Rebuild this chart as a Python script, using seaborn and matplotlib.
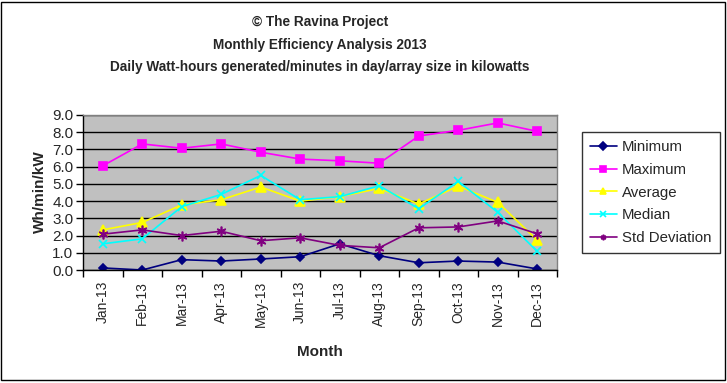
import matplotlib
matplotlib.use("Agg")
import matplotlib.pyplot as plt
import seaborn as sns
import pandas as pd
from matplotlib.patches import Rectangle
from matplotlib.ticker import MultipleLocator, FixedLocator, FuncFormatter

months = ["Jan-13", "Feb-13", "Mar-13", "Apr-13", "May-13", "Jun-13",
          "Jul-13", "Aug-13", "Sep-13", "Oct-13", "Nov-13", "Dec-13"]
minimum = [0.12, 0.0, 0.60, 0.52, 0.64, 0.77, 1.52, 0.83, 0.42, 0.52, 0.46, 0.06]
maximum = [6.05, 7.32, 7.07, 7.32, 6.84, 6.44, 6.34, 6.20, 7.78, 8.11, 8.54, 8.05]
average = [2.33, 2.76, 3.78, 4.08, 4.82, 4.00, 4.26, 4.74, 3.83, 4.87, 3.93, 1.73]
median = [1.52, 1.81, 3.68, 4.39, 5.49, 4.08, 4.26, 4.89, 3.56, 5.14, 3.35, 1.08]
stddev = [2.08, 2.33, 2.00, 2.25, 1.70, 1.87, 1.43, 1.29, 2.45, 2.50, 2.85, 2.10]

series_names = ["Minimum", "Maximum", "Average", "Median", "Std Deviation"]
series_vals = [minimum, maximum, average, median, stddev]
colors = ["#000080", "#FF00FF", "#FFFF00", "#00FFFF", "#800080"]
markers = ["D", "s", "^", "x", (6, 2, 0)]
msizes = [4.5, 6, 7, 6, 7]

sns.set_theme(style="white")
plt.rcParams['font.family'] = ['Liberation Sans', 'DejaVu Sans']

fig = plt.figure(figsize=(7.27, 3.83), dpi=100)
fig.patch.set_facecolor("white")
ax = fig.add_axes([83/727, 1-270/383, (557-83)/727, (270-115)/383])
ax.set_facecolor("#C0C0C0")

for name, vals, c, m, ms in zip(series_names, series_vals, colors, markers, msizes):
    df = pd.DataFrame({"Month": months, "Value": vals})
    sns.lineplot(data=df, x="Month", y="Value", ax=ax, color=c, marker=m,
                 markersize=ms, markeredgecolor=c, markerfacecolor=c,
                 markeredgewidth=1.2, linewidth=1.2, label=name, sort=False)

ax.set_xlim(-0.5, len(months)-0.5)
ax.set_ylim(0, 9)
ax.yaxis.set_major_locator(MultipleLocator(1.0))
ax.yaxis.set_major_formatter(FuncFormatter(lambda v, p: f"{v:.1f}"))
ax.grid(axis="y", color="black", linewidth=1.0)
ax.set_axisbelow(True)
ax.set_xticks(range(len(months)))
ax.set_xticklabels(months, rotation=90, fontsize=10)
ax.xaxis.set_minor_locator(FixedLocator([i - 0.5 for i in range(len(months)+1)]))
ax.tick_params(axis="x", which="major", length=0, pad=8)
ax.tick_params(axis="x", which="minor", length=5, width=1, color="black", direction="out", bottom=True)
ax.tick_params(axis="y", which="major", length=5, width=1, color="black", direction="out", left=True, labelsize=11, pad=2)
for s in ["top", "right"]:
    ax.spines[s].set_color("#808080")
for s in ["left", "bottom"]:
    ax.spines[s].set_color("black")
for s in ax.spines.values():
    s.set_linewidth(1)

ax.set_xlabel("")
ax.set_ylabel("")
fig.text(40/727, 1-192/383, "Wh/min/kW", rotation=90, ha="center", va="center",
         fontsize=11, fontweight="bold")
fig.text(320/727, 1-352/383, "Month", ha="center", va="center",
         fontsize=11, fontweight="bold")

tfs = 9.8
fig.text(320/727, 1-22/383, "\u00a9 The Ravina Project", ha="center", va="center",
         fontsize=tfs, fontweight="bold")
fig.text(320/727, 1-45/383, "Monthly Efficiency Analysis 2013", ha="center", va="center",
         fontsize=tfs, fontweight="bold")
fig.text(320/727, 1-67/383, "Daily Watt-hours generated/minutes in day/array size in kilowatts",
         ha="center", va="center", fontsize=tfs, fontweight="bold")

ax.get_legend().remove()
handles, labels = ax.get_legend_handles_labels()
leg = fig.legend(handles, labels, loc="upper left", bbox_to_anchor=(582/727, 1-132/383),
                 frameon=True, fancybox=False, fontsize=10.8, handlelength=1.75,
                 borderpad=0.55, labelspacing=0.58, handletextpad=0.35, borderaxespad=0)
leg.get_frame().set_edgecolor("black")
leg.get_frame().set_linewidth(1)
for h in leg.legend_handles:
    h.set_markersize(4)

fig.patches.append(Rectangle((1/727, 3/383), 724/727, 378/383, transform=fig.transFigure,
                             fill=False, edgecolor="black", linewidth=1))

fig.savefig("out.png", dpi=100)
